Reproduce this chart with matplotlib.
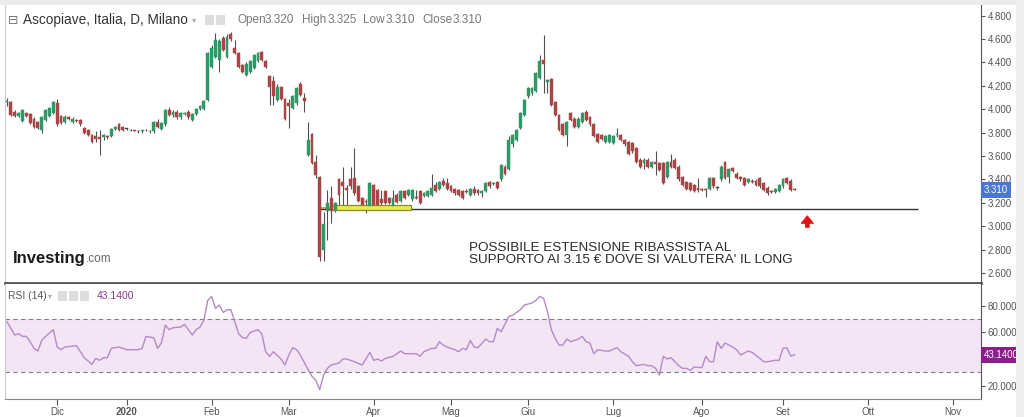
import matplotlib.pyplot as plt
import matplotlib.transforms as mtransforms
from matplotlib.patches import Rectangle

plt.rcParams['font.family'] = ['Liberation Sans', 'DejaVu Sans']

# daily candles, trading-day index 0 = 13 Nov 2019
opens = [4.06, 4.06, 3.98, 3.94, 3.90, 3.97, 3.96, 3.92, 3.89, 3.82,
         3.91, 3.94, 3.97, 4.05, 3.94, 3.89, 3.93, 3.89, 3.91, 3.91,
         3.84, 3.82, 3.78, 3.77, 3.76, 3.76, 3.77, 3.77, 3.83, 3.87,
         3.85, 3.83, 3.82, 3.82, 3.81, 3.81, 3.82, 3.81, 3.81, 3.89,
         3.83, 3.87, 3.99, 3.95, 3.98, 3.93, 3.96, 3.98, 3.91, 3.96,
         4.00, 4.00, 4.08, 4.36, 4.45, 4.42, 4.61, 4.45, 4.64, 4.52,
         4.48, 4.38, 4.29, 4.32, 4.35, 4.41, 4.49, 4.41, 4.28, 4.24,
         4.08, 4.19, 4.09, 4.05, 4.01, 4.05, 4.22, 4.10, 3.61, 3.79,
         3.55, 3.42, 2.80, 3.13, 3.24, 3.14, 3.40, 3.38, 3.33, 3.40,
         3.41, 3.34, 3.24, 3.22, 3.17, 3.35, 3.31, 3.23, 3.30, 3.24,
         3.17, 3.27, 3.22, 3.30, 3.27, 3.23, 3.25, 3.30, 3.26, 3.26,
         3.27, 3.35, 3.32, 3.39, 3.37, 3.34, 3.32, 3.31, 3.30, 3.30,
         3.27, 3.32, 3.31, 3.28, 3.30, 3.38, 3.36, 3.38, 3.40, 3.51,
         3.49, 3.70, 3.74, 3.84, 3.95, 4.11, 4.14, 4.16, 4.27, 4.42,
         4.23, 4.26, 4.06, 3.95, 3.87, 3.78, 3.97, 3.92, 3.85, 3.89,
         3.98, 3.93, 3.87, 3.79, 3.78, 3.72, 3.72, 3.71, 3.78, 3.78,
         3.74, 3.72, 3.71, 3.67, 3.57, 3.54, 3.57, 3.51, 3.55, 3.54,
         3.54, 3.42, 3.55, 3.57, 3.51, 3.42, 3.38, 3.37, 3.35, 3.33,
         3.32, 3.32, 3.32, 3.41, 3.33, 3.40, 3.55, 3.42, 3.50, 3.45,
         3.42, 3.41, 3.38, 3.39, 3.39, 3.41, 3.37, 3.33, 3.30, 3.29,
         3.30, 3.34, 3.41, 3.39, 3.32]
highs = [4.10, 4.07, 3.99, 3.98, 4.00, 3.98, 3.97, 3.93, 3.90, 3.94,
         4.00, 4.02, 4.07, 4.09, 3.95, 3.95, 3.94, 3.93, 3.92, 3.92,
         3.85, 3.83, 3.79, 3.81, 3.82, 3.79, 3.78, 3.84, 3.86, 3.88,
         3.86, 3.84, 3.83, 3.82, 3.82, 3.82, 3.83, 3.82, 3.90, 3.92,
         3.89, 4.00, 4.02, 3.99, 3.99, 3.98, 3.98, 3.99, 3.97, 4.01,
         4.04, 4.08, 4.49, 4.55, 4.65, 4.60, 4.63, 4.64, 4.66, 4.59,
         4.49, 4.39, 4.40, 4.42, 4.47, 4.49, 4.50, 4.42, 4.29, 4.28,
         4.22, 4.20, 4.10, 4.09, 4.12, 4.19, 4.23, 4.14, 3.89, 3.80,
         3.61, 3.43, 3.12, 3.31, 3.34, 3.21, 3.41, 3.51, 3.35, 3.51,
         3.67, 3.35, 3.25, 3.23, 3.38, 3.36, 3.32, 3.31, 3.31, 3.25,
         3.31, 3.28, 3.31, 3.31, 3.32, 3.32, 3.31, 3.31, 3.29, 3.31,
         3.45, 3.38, 3.39, 3.41, 3.41, 3.35, 3.33, 3.32, 3.31, 3.32,
         3.33, 3.34, 3.32, 3.31, 3.38, 3.39, 3.38, 3.39, 3.53, 3.52,
         3.77, 3.79, 3.83, 3.98, 4.09, 4.19, 4.19, 4.32, 4.46, 4.635,
         4.26, 4.27, 4.07, 3.96, 3.88, 3.90, 3.98, 3.93, 3.93, 3.98,
         3.99, 3.94, 3.88, 3.80, 3.79, 3.78, 3.79, 3.78, 3.84, 3.79,
         3.75, 3.73, 3.72, 3.68, 3.58, 3.58, 3.58, 3.56, 3.64, 3.55,
         3.55, 3.56, 3.62, 3.58, 3.52, 3.43, 3.39, 3.38, 3.36, 3.41,
         3.33, 3.33, 3.42, 3.42, 3.34, 3.52, 3.56, 3.50, 3.51, 3.46,
         3.43, 3.42, 3.41, 3.40, 3.40, 3.42, 3.38, 3.34, 3.31, 3.33,
         3.36, 3.41, 3.42, 3.40, 3.325]
lows = [4.03, 3.94, 3.93, 3.93, 3.89, 3.93, 3.87, 3.84, 3.83, 3.80,
        3.90, 3.93, 3.96, 3.86, 3.87, 3.88, 3.91, 3.88, 3.89, 3.86,
        3.79, 3.77, 3.71, 3.72, 3.61, 3.74, 3.75, 3.76, 3.82, 3.81,
        3.81, 3.82, 3.81, 3.81, 3.80, 3.80, 3.81, 3.80, 3.80, 3.84,
        3.82, 3.86, 3.94, 3.93, 3.92, 3.92, 3.95, 3.92, 3.90, 3.95,
        3.99, 3.99, 4.07, 4.35, 4.44, 4.32, 4.50, 4.44, 4.58, 4.47,
        4.35, 4.31, 4.28, 4.31, 4.34, 4.40, 4.41, 4.35, 4.04, 4.04,
        4.07, 4.08, 3.91, 3.84, 4.00, 4.04, 4.11, 3.98, 3.60, 3.53,
        3.41, 2.70, 2.70, 2.88, 3.03, 3.12, 3.18, 3.18, 3.18, 3.32,
        3.27, 3.21, 3.17, 3.11, 3.16, 3.17, 3.14, 3.15, 3.19, 3.19,
        3.16, 3.20, 3.21, 3.23, 3.26, 3.22, 3.23, 3.19, 3.25, 3.25,
        3.26, 3.29, 3.31, 3.34, 3.31, 3.29, 3.27, 3.26, 3.23, 3.28,
        3.26, 3.27, 3.27, 3.25, 3.29, 3.33, 3.35, 3.32, 3.39, 3.44,
        3.48, 3.68, 3.73, 3.83, 3.94, 4.10, 4.12, 4.15, 4.26, 4.14,
        4.14, 4.03, 3.94, 3.81, 3.77, 3.69, 3.90, 3.84, 3.84, 3.88,
        3.90, 3.86, 3.76, 3.71, 3.74, 3.71, 3.71, 3.70, 3.76, 3.73,
        3.69, 3.61, 3.63, 3.54, 3.50, 3.49, 3.50, 3.50, 3.44, 3.47,
        3.36, 3.41, 3.50, 3.49, 3.39, 3.34, 3.31, 3.30, 3.29, 3.29,
        3.30, 3.25, 3.31, 3.33, 3.31, 3.39, 3.40, 3.37, 3.46, 3.40,
        3.39, 3.34, 3.37, 3.37, 3.34, 3.33, 3.30, 3.27, 3.28, 3.28,
        3.29, 3.33, 3.36, 3.30, 3.31]
closes = [4.07, 3.95, 3.94, 3.97, 3.99, 3.94, 3.88, 3.85, 3.84, 3.93,
          3.99, 4.01, 4.06, 3.87, 3.88, 3.93, 3.92, 3.92, 3.90, 3.87,
          3.80, 3.78, 3.72, 3.75, 3.75, 3.78, 3.76, 3.83, 3.85, 3.82,
          3.82, 3.83, 3.82, 3.81, 3.81, 3.82, 3.82, 3.81, 3.89, 3.85,
          3.88, 3.99, 3.95, 3.98, 3.93, 3.97, 3.97, 3.93, 3.96, 4.00,
          4.03, 4.07, 4.48, 4.52, 4.59, 4.58, 4.51, 4.62, 4.60, 4.48,
          4.36, 4.32, 4.39, 4.41, 4.46, 4.48, 4.42, 4.36, 4.19, 4.11,
          4.19, 4.09, 3.92, 4.03, 4.11, 4.18, 4.12, 4.07, 3.74, 3.54,
          3.44, 2.74, 3.02, 3.20, 3.13, 3.20, 3.27, 3.34, 3.31, 3.34,
          3.28, 3.22, 3.18, 3.21, 3.37, 3.18, 3.18, 3.20, 3.20, 3.20,
          3.24, 3.21, 3.30, 3.24, 3.31, 3.31, 3.24, 3.20, 3.28, 3.30,
          3.33, 3.30, 3.38, 3.35, 3.32, 3.30, 3.28, 3.27, 3.24, 3.29,
          3.32, 3.28, 3.28, 3.30, 3.37, 3.34, 3.37, 3.33, 3.52, 3.45,
          3.74, 3.78, 3.82, 3.97, 4.08, 4.18, 4.18, 4.31, 4.41, 4.39,
          4.25, 4.04, 3.95, 3.82, 3.78, 3.89, 3.91, 3.85, 3.92, 3.97,
          3.91, 3.87, 3.77, 3.72, 3.75, 3.77, 3.78, 3.77, 3.79, 3.74,
          3.70, 3.62, 3.64, 3.55, 3.51, 3.57, 3.51, 3.55, 3.53, 3.48,
          3.37, 3.55, 3.51, 3.50, 3.40, 3.35, 3.32, 3.31, 3.30, 3.31,
          3.31, 3.31, 3.41, 3.34, 3.33, 3.51, 3.41, 3.49, 3.47, 3.41,
          3.40, 3.35, 3.40, 3.38, 3.35, 3.34, 3.31, 3.28, 3.29, 3.32,
          3.35, 3.40, 3.37, 3.31, 3.31]

# RSI(14)
rsi_day = [0, 2, 3, 4, 5, 6, 7, 8, 9, 10, 12, 13, 14, 15, 18, 19, 20, 22, 23, 24,
           25, 26, 27, 28, 29, 31, 33, 34, 35, 36, 38, 39, 40, 41, 42, 43, 45, 46, 48, 49,
           50, 51, 52, 53, 54, 55, 56, 57, 58, 59, 60, 61, 62, 63, 65, 66, 67, 68, 69, 71,
           72, 73, 74, 75, 76, 78, 79, 80, 81, 82, 83, 84, 86, 87, 88, 90, 92, 94, 95, 96,
           97, 98, 100, 101, 102, 103, 104, 106, 107, 108, 110, 111, 112, 113, 114, 116, 117, 118, 119, 120,
           121, 122, 124, 125, 126, 127, 128, 130, 131, 133, 134, 136, 137, 138, 139, 140, 141, 142, 143, 144,
           145, 146, 148, 149, 150, 151, 152, 153, 155, 156, 158, 159, 161, 162, 163, 164, 165, 166, 167, 168,
           169, 170, 171, 172, 174, 175, 176, 177, 178, 180, 181, 182, 183, 184, 185, 186, 188, 189, 190, 192,
           193, 195, 196, 197, 199, 200, 201, 202, 203, 204]
rsi_val = [68, 58, 59, 57, 57, 53, 48, 46, 54, 57, 62, 49, 47, 49, 50, 45.5, 41, 36, 40.5, 39,
           41, 41, 48, 48.5, 49, 47, 47, 47, 48, 57, 56, 48, 52, 65.5, 62, 63.5, 64, 66, 58, 62,
           64, 69, 84, 87, 78, 80.5, 75, 77, 77, 68, 59, 56, 55.5, 60, 62, 59, 45.5, 42, 45.5, 40,
           35.5, 43, 48.5, 47, 43, 32, 27, 24, 17, 28, 33, 35.5, 37, 40, 40, 38, 35.5, 45, 39, 40,
           38.5, 40.5, 42, 44, 46, 44, 44, 44, 42, 45.5, 48, 48, 53, 50.5, 49, 47, 45.5, 48, 47, 54,
           49, 48.5, 55, 53, 53, 63, 60.5, 72, 73, 77, 80.5, 82, 84, 87, 85.5, 75.5, 62, 55.5, 50.5, 50.5,
           55, 53, 55, 57, 53, 52, 44, 47, 46, 46, 48.5, 45.5, 42, 38, 35, 35.5, 36, 35, 35, 33,
           28, 42, 40, 41, 35, 33, 33, 31.5, 34, 33.5, 42, 38, 38, 53, 48, 52, 49, 47, 43, 46,
           45, 40.5, 38, 38, 39, 39, 48, 48.5, 42.3, 43.14]

price_ticks = [2.6, 2.8, 3.0, 3.2, 3.4, 3.6, 3.8, 4.0, 4.2, 4.4, 4.6, 4.8]
rsi_ticks = [20, 60, 80]
month_labels = ['Dic', '2020', 'Feb', 'Mar', 'Apr', 'Mag', 'Giu', 'Lug', 'Ago', 'Set', 'Ott', 'Nov']
month_pos = [13, 31, 53, 73, 95, 115, 135, 157, 180, 201, 223, 245]

support = 3.148
last_close = 3.31
last_rsi = 43.14

W, H = 1024, 417
fig = plt.figure(figsize=(W / 100, H / 100), dpi=100, facecolor='white')


def box(x0, y0, x1, y1):  # pixel box -> figure fraction
    return [x0 / W, 1 - y1 / H, (x1 - x0) / W, (y1 - y0) / H]


def px(x, y):
    return x / W, 1 - y / H


# light frame of the widget
fig.patches.append(Rectangle((0, 1 - 5 / H), 1, 5 / H, transform=fig.transFigure,
                             fc='#ececec', ec='none', zorder=0))
fig.patches.append(Rectangle((1016 / W, 0), 8 / W, 1, transform=fig.transFigure,
                             fc='#efefef', ec='none', zorder=0))

ax = fig.add_axes(box(5, 5, 981, 283))
ax_rsi = fig.add_axes(box(5, 284, 981, 399))

# candles
x = list(range(len(opens)))
cols = []
for o, c in zip(opens, closes):
    if c > o:
        cols.append('#2f9866')
    elif c < o:
        cols.append('#ab4545')
    else:
        cols.append('#444444')
ax.vlines(x, lows, highs, color='#505050', lw=0.8, zorder=2)
bottoms = [min(o, c) for o, c in zip(opens, closes)]
heights = [max(abs(c - o), 0.006) for o, c in zip(opens, closes)]
ax.bar(x, heights, bottom=bottoms, width=0.74, color=cols, edgecolor=cols, lw=0.3, zorder=3)

# drawings
ax.hlines(support, 81, 236, color='#333333', lw=1.0, zorder=1)
ax.add_patch(Rectangle((83.7, 3.135), 21, 0.043, fc='#e6ee4e', ec='#8c8c22', lw=0.9, zorder=2.5))
ax.hlines(3.156, 80.5, 84, color='#d4872e', lw=1.2, zorder=2.6)
ax.annotate('', xy=(207.3, 3.09), xytext=(207.3, 2.99),
            arrowprops=dict(arrowstyle='simple,head_width=0.9,head_length=0.55,tail_width=0.28',
                            mutation_scale=10, fc='#e3100f', ec='#e3100f', lw=0.5,
                            shrinkA=0, shrinkB=0))
ax.text(119.7, 2.865, "POSSIBILE ESTENSIONE RIBASSISTA AL\nSUPPORTO AI 3.15 € DOVE SI VALUTERA' IL LONG",
        fontsize=9.7, color='#2a2a2a', va='top', ha='left', linespacing=1.0)

ax.set_xlim(-0.52, 252.3)
ax.set_ylim(2.515, 4.891)
ax.tick_params(axis='x', bottom=False, labelbottom=False)
ax.yaxis.tick_right()
ax.set_yticks(price_ticks)
ax.set_yticklabels([f'{v:.3f}' for v in price_ticks])
ax.tick_params(axis='y', direction='out', length=3, width=0.8, colors='#555555', labelsize=7, pad=2)
ax.spines['top'].set_visible(False)
ax.spines['left'].set_color('#cccccc')
ax.spines['right'].set_color('#555555')
ax.spines['bottom'].set_color('#555555')
ax.spines['bottom'].set_linewidth(2)

blend = mtransforms.blended_transform_factory(ax.transAxes, ax.transData)
ax.text(1.0 + 3 / 976, last_close, f'{last_close:.3f}', transform=blend, fontsize=7, color='white',
        va='center', ha='left', clip_on=False,
        bbox=dict(boxstyle='square,pad=0.3', fc='#4a76d4', ec='none'))

# RSI panel
ax_rsi.axhspan(30, 70, color='#f3e5f4', zorder=0, lw=0)
ax_rsi.axhline(70, color='#808080', ls=(0, (4, 3)), lw=0.8)
ax_rsi.axhline(30, color='#808080', ls=(0, (4, 3)), lw=0.8)
ax_rsi.plot(rsi_day, rsi_val, color='#b48ac9', lw=1.0)
ax_rsi.set_xlim(-0.52, 252.3)
ax_rsi.set_ylim(10, 96.3)
ax_rsi.yaxis.tick_right()
ax_rsi.set_yticks(rsi_ticks)
ax_rsi.set_yticklabels([f'{v:.4f}' for v in rsi_ticks])
ax_rsi.tick_params(axis='y', direction='out', length=3, width=0.8, colors='#555555', labelsize=7, pad=2)
ax_rsi.set_xticks(month_pos)
ax_rsi.set_xticklabels(month_labels)
ax_rsi.tick_params(axis='x', direction='out', length=4, width=0.8, colors='#555555', labelsize=7, pad=2)
for lab in ax_rsi.get_xticklabels():
    if lab.get_text() == '2020':
        lab.set_fontweight('bold')
ax_rsi.spines['top'].set_visible(False)
ax_rsi.spines['left'].set_color('#cccccc')
ax_rsi.spines['right'].set_color('#555555')
ax_rsi.spines['bottom'].set_color('#888888')

blend_r = mtransforms.blended_transform_factory(ax_rsi.transAxes, ax_rsi.transData)
ax_rsi.text(1.0 + 3 / 976, last_rsi, f'{last_rsi:.4f}', transform=blend_r, fontsize=7, color='white',
            va='center', ha='left', clip_on=False,
            bbox=dict(boxstyle='square,pad=0.3', fc='#8a1e8a', ec='none'))

# headers
fig.text(*px(8, 20), '⊟', fontsize=9, color='#777777', va='center', family='DejaVu Sans')
fig.text(*px(23, 20), 'Ascopiave, Italia, D, Milano', fontsize=9.8, color='#333333', va='center')
fig.text(*px(192, 20), '▾', fontsize=6, color='#aaaaaa', va='center', family='DejaVu Sans')
for x0 in (205, 216):
    fig.patches.append(Rectangle(px(x0, 25), 9 / W, 10 / H, transform=fig.transFigure,
                                 fc='#dddddd', ec='none'))
header = [('Open', 237), ('3.320', 265), ('High', 302), ('3.325', 328),
          ('Low', 363), ('3.310', 386), ('Close', 422), ('3.310', 453)]
for s, x0 in header:
    fig.text(*px(x0, 20), s, fontsize=8.5, color='#777777', va='center')

fig.text(*px(8, 296), 'RSI (14)', fontsize=7.5, color='#555555', va='center')
fig.text(*px(48, 296), '▾', fontsize=5.5, color='#aaaaaa', va='center', family='DejaVu Sans')
for x0 in (58, 69, 80):
    fig.patches.append(Rectangle(px(x0, 301), 9 / W, 10 / H, transform=fig.transFigure,
                                 fc='#dddddd', ec='none'))
fig.text(*px(97, 296), f'{last_rsi:.4f}', fontsize=7.5, color='#8a3a8a', va='center')

# logo
logo = fig.text(*px(13, 258), 'Investing', fontsize=12, fontweight='bold', color='#1a1a1a', va='center')
ax.annotate('.com', xy=(1.0, 0.0), xycoords=logo, fontsize=8.5, color='#666666',
            va='bottom', ha='left', annotation_clip=False)

fig.savefig('out.png', dpi=100, facecolor=fig.get_facecolor())
